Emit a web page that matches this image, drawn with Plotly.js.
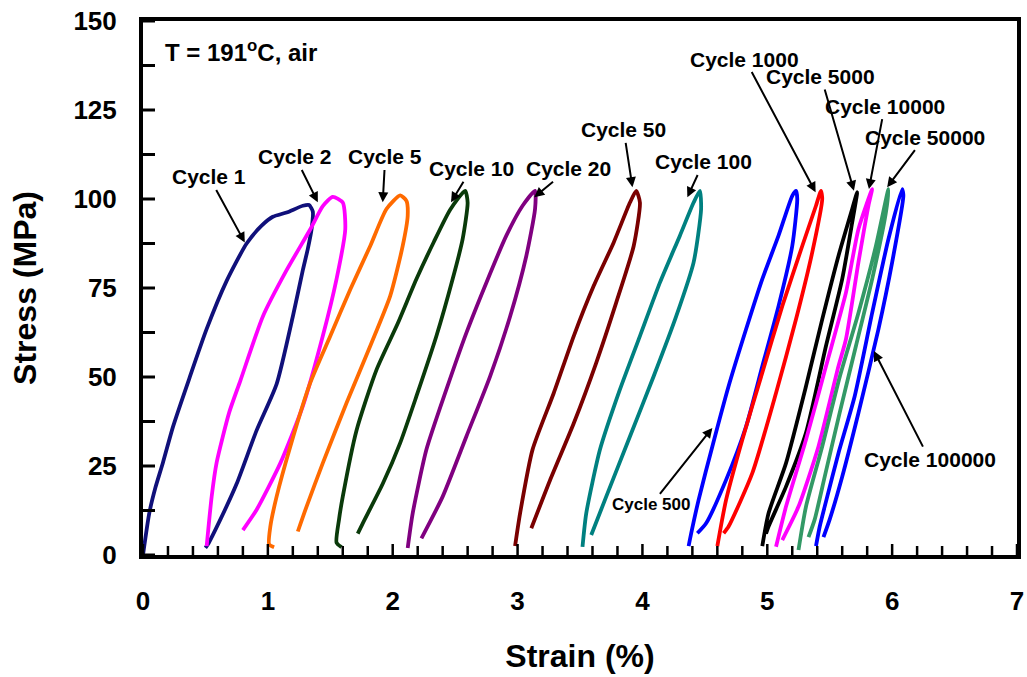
<!DOCTYPE html>
<html>
<head>
<meta charset="utf-8">
<script src="https://cdn.plot.ly/plotly-3.0.1.min.js"></script>
<style>html,body{margin:0;padding:0;background:#fff;}#chart{width:1027px;height:677px;}</style>
</head>
<body>
<div id="chart"></div>
<script>
// ---- data (strain %, stress MPa) ----
var cycle1Strain = [0, 0.05, 0.10, 0.16, 0.24, 0.37, 0.51, 0.67, 0.83, 0.95, 1.04, 1.15, 1.28, 1.33, 1.36, 1.35, 1.32, 1.28, 1.20, 1.07, 0.91, 0.75, 0.62, 0.52, 0.50];
var cycle1Stress = [0, 11.7, 19, 26, 36, 49.5, 63.5, 77, 87.5, 92.5, 95, 96.2, 98.1, 98.3, 96.5, 91.5, 86, 80, 67, 48, 35, 20, 10, 3, 2];

var cycle2Strain = [0.51, 0.55, 0.59, 0.69, 0.78, 0.96, 1.15, 1.34, 1.44, 1.52, 1.60, 1.62, 1.55, 1.44, 1.28, 1.10, 0.91, 0.80];
var cycle2Stress = [2.5, 16.4, 26, 40, 49, 67, 80, 91.5, 98, 100.6, 99, 91.5, 77.5, 61.5, 41.8, 25.8, 12.7, 7];

var cycle5Strain = [1.05, 1.01, 1.02, 1.07, 1.18, 1.34, 1.50, 1.66, 1.82, 1.95, 2.06, 2.11, 2.12, 2.08, 1.98, 1.82, 1.63, 1.44, 1.31, 1.24];
var cycle5Stress = [2.2, 3, 8, 16.4, 30.5, 48.4, 61.5, 74.6, 86.8, 97.2, 101, 99.5, 95.3, 86.8, 72.8, 58.7, 42.7, 25.8, 13.6, 6.6];

var cycle10Strain = [1.59, 1.55, 1.57, 1.60, 1.71, 1.87, 2.04, 2.19, 2.33, 2.46, 2.58, 2.60, 2.56, 2.48, 2.35, 2.19, 2.06, 1.92, 1.76, 1.72];
var cycle10Stress = [2.2, 3.5, 10, 16.4, 35, 52, 65, 77.5, 88, 97, 102.3, 99, 88.7, 77.5, 61.5, 44.6, 31.5, 20, 8.9, 6];

var cycle20Strain = [2.12, 2.16, 2.27, 2.43, 2.59, 2.75, 2.91, 3.04, 3.14, 3.14, 3.07, 2.94, 2.78, 2.59, 2.40, 2.23];
var cycle20Stress = [2, 11.7, 29.6, 46.5, 62.4, 76.5, 89.7, 98.1, 102.3, 97.2, 84, 67, 50.2, 33.3, 16.4, 4.7];

var cycle50Strain = [2.98, 3.02, 3.12, 3.29, 3.45, 3.61, 3.77, 3.90, 3.95, 3.98, 3.93, 3.79, 3.63, 3.45, 3.26, 3.11];
var cycle50Stress = [2.5, 11.7, 29.6, 45.5, 61.5, 75.6, 87.8, 99, 102.3, 99, 86.8, 70.9, 54, 37, 21, 7.5];

var cycle100Strain = [3.52, 3.55, 3.66, 3.82, 3.98, 4.14, 4.30, 4.41, 4.46, 4.47, 4.41, 4.27, 4.09, 3.90, 3.71, 3.59];
var cycle100Stress = [2.3, 11.7, 29.6, 46.5, 61.5, 76.5, 89.7, 99, 102.3, 97.2, 82.2, 67, 50.2, 33.3, 16.4, 5.6];

var cycle500Strain = [4.37, 4.39, 4.45, 4.56, 4.69, 4.83, 4.96, 5.09, 5.20, 5.23, 5.24, 5.20, 5.09, 4.96, 4.83, 4.67, 4.51, 4.44];
var cycle500Stress = [2.5, 6, 15.5, 30.5, 47.4, 63.4, 77.5, 89.7, 100.9, 102.3, 100, 86.8, 69.9, 53, 36.1, 21.1, 8.9, 6.1];

var cycle1000Strain = [4.60, 4.67, 4.80, 4.96, 5.12, 5.28, 5.39, 5.43, 5.44, 5.36, 5.23, 5.07, 4.88, 4.69, 4.65];
var cycle1000Stress = [2.5, 15.5, 32.4, 51.2, 69.9, 86.8, 98.1, 102.3, 100, 85, 66.2, 45.5, 23, 8, 6.1];

var cycle5000Strain = [4.96, 5.01, 5.15, 5.31, 5.44, 5.57, 5.68, 5.72, 5.68, 5.60, 5.47, 5.31, 5.15, 5.01, 4.99];
var cycle5000Stress = [2.5, 11.7, 25.8, 47.4, 66.2, 84, 97.2, 101.9, 93.4, 77.5, 58.7, 34.3, 19.2, 8, 6];

var cycle10000Strain = [5.07, 5.15, 5.31, 5.47, 5.63, 5.73, 5.84, 5.81, 5.73, 5.63, 5.57, 5.41, 5.25, 5.12];
var cycle10000Stress = [2.3, 13.6, 32.4, 53, 73.7, 91.5, 102.8, 98.1, 82.2, 60.6, 53, 30.5, 13.6, 4.2];

var cycle50000Strain = [5.25, 5.31, 5.44, 5.58, 5.73, 5.87, 5.97, 5.95, 5.84, 5.71, 5.58, 5.46, 5.38, 5.33];
var cycle50000Stress = [1.4, 13.6, 30.5, 50, 68, 86.8, 102.8, 96.2, 77.5, 58.7, 40, 22, 10, 5];

var cycle100000Strain = [5.39, 5.42, 5.47, 5.57, 5.70, 5.84, 5.97, 6.08, 6.09, 6.00, 5.89, 5.73, 5.60, 5.50, 5.45];
var cycle100000Stress = [2.5, 8, 15, 28.6, 44.6, 68, 88.7, 102.8, 100.9, 82.2, 63.4, 39.9, 22, 10, 5];

var cycleNames = ['Cycle 1', 'Cycle 2', 'Cycle 5', 'Cycle 10', 'Cycle 20', 'Cycle 50', 'Cycle 100',
                  'Cycle 500', 'Cycle 1000', 'Cycle 5000', 'Cycle 10000', 'Cycle 50000', 'Cycle 100000'];
var xTickVals = [0, 1, 2, 3, 4, 5, 6, 7];
var xTickText = ['0', '1', '2', '3', '4', '5', '6', '7'];
var yTickVals = [0, 25, 50, 75, 100, 125, 150];
var yTickText = ['0', '25', '50', '75', '100', '125', '150'];
var xMinorTickVals = [0.2, 0.4, 0.6, 0.8, 1.2, 1.4, 1.6, 1.8, 2.2, 2.4, 2.6, 2.8, 3.2, 3.4, 3.6, 3.8,
                      4.2, 4.4, 4.6, 4.8, 5.2, 5.4, 5.6, 5.8, 6.2, 6.4, 6.6, 6.8];
var yMinorTickVals = [12.5, 37.5, 62.5, 87.5, 112.5, 137.5];

// ---- styling ----
var strains = [cycle1Strain, cycle2Strain, cycle5Strain, cycle10Strain, cycle20Strain, cycle50Strain, cycle100Strain,
               cycle500Strain, cycle1000Strain, cycle5000Strain, cycle10000Strain, cycle50000Strain, cycle100000Strain];
var stresses = [cycle1Stress, cycle2Stress, cycle5Stress, cycle10Stress, cycle20Stress, cycle50Stress, cycle100Stress,
                cycle500Stress, cycle1000Stress, cycle5000Stress, cycle10000Stress, cycle50000Stress, cycle100000Stress];
var colors = ['#10107a', '#ff00ff', '#ff6a00', '#0a3a0a', '#800080', '#7a0000', '#008080',
              '#0000ff', '#ff0000', '#000000', '#ff00ff', '#339966', '#0000ff'];

var traces = [];
for (var i = 0; i < strains.length; i++) {
  traces.push({
    x: strains[i], y: stresses[i], name: cycleNames[i],
    type: 'scatter', mode: 'lines',
    line: {color: colors[i], width: 3.8, shape: 'spline', smoothing: 0.6},
    showlegend: false, hoverinfo: 'skip'
  });
}

// arrow heads and label (text-centre) positions, both in data coords
var arrowHead = [[0.815, 87.8], [1.40, 99.1], [1.92, 99.1], [2.467, 99.1], [3.134, 100.5], [3.92, 103.3], [4.36, 100.5],
                 [4.56, 35.7], [5.387, 101.9], [5.694, 102.3], [5.814, 102.8], [5.96, 103.3], [5.854, 57.3]];
var labelPos = [[0.53, 106.2], [1.22, 111.8], [1.94, 111.8], [2.63, 108.5], [3.41, 108.5], [3.85, 119.4], [4.49, 110.4],
                [4.07, 14.1], [4.82, 139.3], [5.43, 134.4], [5.94, 126.1], [6.26, 117.4], [6.30, 26.8]];
var labelSize = [21, 21, 21, 21, 21, 21, 21, 17, 21, 21, 21, 21, 21];

var font = 'Liberation Sans, Arial, Helvetica, sans-serif';
var annotations = [];
for (var j = 0; j < cycleNames.length; j++) {
  annotations.push({
    x: arrowHead[j][0], y: arrowHead[j][1], xref: 'x', yref: 'y',
    axref: 'x', ayref: 'y',
    ax: labelPos[j][0], ay: labelPos[j][1],
    text: cycleNames[j], showarrow: true,
    arrowhead: 2, arrowsize: 1, arrowwidth: 2, arrowcolor: '#000',
    font: {family: font, size: labelSize[j], color: '#000', weight: 'bold'}
  });
}
annotations.push({
  x: 0.16, y: 141.7, xref: 'x', yref: 'y', xanchor: 'left', yanchor: 'middle',
  text: 'T = 191<sup>o</sup>C, air', showarrow: false,
  font: {family: font, size: 24, color: '#000', weight: 'bold'}
});

// inward tick marks along the bottom and left axis lines
var shapes = [];
function xTick(v, len) {
  shapes.push({type: 'line', xref: 'x', yref: 'y', ysizemode: 'pixel', yanchor: 0,
               x0: v, x1: v, y0: 0, y1: len, line: {color: '#000', width: 2.5}});
}
function yTick(v, len) {
  shapes.push({type: 'line', xref: 'x', yref: 'y', xsizemode: 'pixel', xanchor: 0,
               y0: v, y1: v, x0: 0, x1: len, line: {color: '#000', width: 3}});
}
xTickVals.forEach(function (v) { xTick(v, 11); });
xMinorTickVals.forEach(function (v) { xTick(v, 9); });
yTickVals.forEach(function (v) { yTick(v, 12); });
yMinorTickVals.forEach(function (v) { yTick(v, 12); });

var layout = {
  width: 1027, height: 677,
  margin: {l: 143, r: 10, t: 21, b: 122, pad: 0},
  paper_bgcolor: '#fff', plot_bgcolor: '#fff',
  font: {family: font, color: '#000'},
  xaxis: {
    range: [0, 7], tickmode: 'array', tickvals: xTickVals, ticktext: xTickText,
    ticks: '', showline: true, linewidth: 4, linecolor: '#000', mirror: true,
    showgrid: false, zeroline: false,
    ticklabelstandoff: 20,
    tickfont: {family: font, size: 26, color: '#000', weight: 'bold'},
    title: {text: 'Strain (%)', font: {family: font, size: 32, color: '#000', weight: 'bold'}, standoff: 30}
  },
  yaxis: {
    range: [0, 150], tickmode: 'array', tickvals: yTickVals, ticktext: yTickText,
    ticks: '', showline: true, linewidth: 4, linecolor: '#000', mirror: true,
    showgrid: false, zeroline: false,
    ticklabelstandoff: 17,
    tickfont: {family: font, size: 26, color: '#000', weight: 'bold'},
    title: {text: 'Stress (MPa)', font: {family: font, size: 32, color: '#000', weight: 'bold'}, standoff: 28}
  },
  shapes: shapes,
  annotations: annotations,
  showlegend: false
};

Plotly.newPlot('chart', traces, layout, {displayModeBar: false});
</script>
</body>
</html>
